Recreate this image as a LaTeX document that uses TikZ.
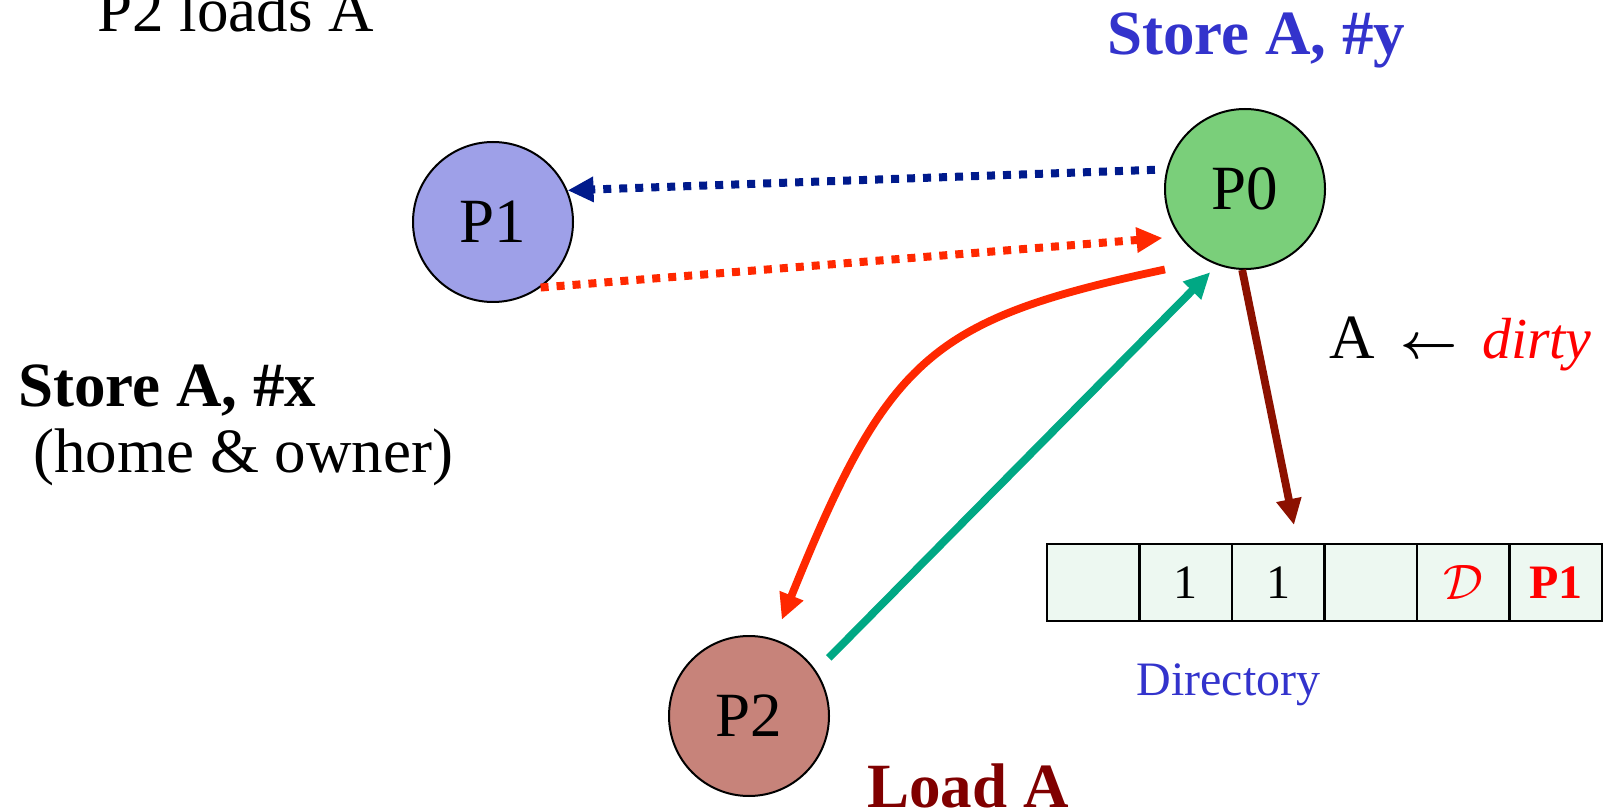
\documentclass[tikz,border=0pt]{standalone}
\usepackage{fontspec}
\setmainfont{Liberation Serif}
\usetikzlibrary{arrows.meta,positioning}

\definecolor{pone}{RGB}{158,160,232}
\definecolor{pzero}{RGB}{122,207,122}
\definecolor{ptwo}{RGB}{199,131,122}
\definecolor{cellfill}{RGB}{237,248,241}
\definecolor{navy}{RGB}{0,26,140}
\definecolor{hotred}{RGB}{255,40,0}
\definecolor{seagreen}{RGB}{0,168,132}
\definecolor{rust}{RGB}{140,17,0}
\definecolor{loadred}{RGB}{128,0,0}
\definecolor{dirblue}{RGB}{51,51,204}

\newcommand\slidefont{\fontsize{31.5}{38}\selectfont}
\newcommand\cellfont{\fontsize{24}{28}\selectfont}

\tikzset{
  proc/.style={circle,draw,line width=1pt,minimum size=80pt,inner sep=0pt,font=\slidefont},
  cell/.style={draw,line width=1.25pt,fill=cellfill,minimum width=46.25pt,minimum height=38.5pt,
    inner sep=0pt,outer sep=0pt,font=\cellfont},
  lbl/.style={inner sep=0pt,anchor=base west,font=\slidefont},
  msg/.style={line width=3.9pt,-{Triangle[length=13pt,width=12pt]}},
  dotmsg/.style={msg,line width=4pt,dash pattern=on 4pt off 4pt}
}

\begin{document}
\begin{tikzpicture}[x=0.5pt,y=-0.5pt]
\useasboundingbox (0,0) rectangle (1607,812);

% processors
\node[proc,fill=pone] (p1) at (493,222) {P1};
\node[proc,fill=pzero] (p0) at (1245,189) {P0};
\node[proc,fill=ptwo] (p2) at (749,716) {P2};

% directory entry of A
\node[cell] (d1) at (1093.25,582.5) {};
\node[cell,right=0pt of d1] (d2) {1};
\node[cell,right=0pt of d2] (d3) {1};
\node[cell,right=0pt of d3] (d4) {};
\node[cell,right=0pt of d4,text=red] (d5) {$\mathcal{D}$};
\node[cell,right=0pt of d5,text=red,font=\cellfont\bfseries] (d6) {P1};
\node[lbl,font=\cellfont,text=dirblue] (dirname) at (1136,695) {Directory};

% labels
\node[lbl] (title) at (97,32) {P2 loads A};
\node[lbl,font=\slidefont\bfseries,text=dirblue] (storey) at (1107,55) {Store A, \#y};
\node[lbl,font=\slidefont\bfseries] (storex) at (18,407) {Store A, \#x};
\node[lbl] (home) at (33,473) {(home \& owner)};
\node[lbl,font=\slidefont\bfseries,text=loadred] (load) at (867,807) {Load A};
\node[lbl] (state) at (1329,359) {A\hspace{13pt}{\fontsize{37}{37}\selectfont\boldmath$\leftarrow$}\hspace{12pt}{\color{red}\fontsize{29}{34}\selectfont\itshape dirty}};

% messages
\draw[dotmsg,navy,shorten <=5.75pt] (p0.166) -- (p1.23);
\draw[dotmsg,hotred,shorten >=8.5pt] (p1.-54) -- (p0.216);
\draw[msg,hotred,shorten <=21.5pt,shorten >=10.35pt] (p0.242) .. controls +(-277,59) and +(114,-282) .. (p2.72);
\draw[msg,seagreen,shorten <=9pt,shorten >=5pt] (p2.34) -- (p0.250);
\coordinate (dirtip) at (1294,525);
\draw[msg,rust] (p0.268) -- (dirtip);
\end{tikzpicture}
\end{document}
